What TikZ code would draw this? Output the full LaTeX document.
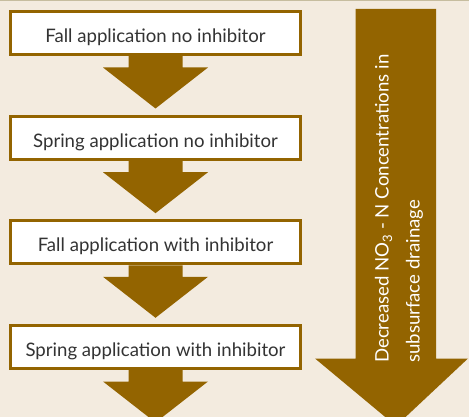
\documentclass[tikz,border=0pt]{standalone}
\usepackage{fontspec}
\setmainfont{Lato}
\usetikzlibrary{calc}

\definecolor{bgbeige}{HTML}{F3EBDF}
\definecolor{flowbrown}{HTML}{936400}
\definecolor{textgrey}{HTML}{333333}
\definecolor{topline}{HTML}{C6BD9F}

\tikzset{
  stepbox/.style={draw=flowbrown,line width=3pt,fill=white,minimum width=290pt,
    minimum height=43pt,inner sep=0pt,text height=25pt,text depth=6pt,
    text=textgrey,font=\fontsize{18.6}{22}\selectfont},
  blockarrow/.style={fill=flowbrown},
}

\begin{document}
\begin{tikzpicture}[x=1pt,y=-1pt]
\fill[bgbeige] (0,0) rectangle (469,417);
\useasboundingbox (0,0) rectangle (469,417);
\draw[topline,line width=1.5pt] (0,0.75)--(469,0.75);

% the four steps
\node[stepbox] (fallno) at (155.5,33) {Fall application no inhibitor};
\node[stepbox] (springno) at (155.5,137.7) {Spring application no inhibitor};
\node[stepbox] (fallwith) at (155.5,242.3) {Fall application with inhibitor};
\node[stepbox] (springwith) at (155.5,347) {Spring application with inhibitor};

% block arrows below each step
\foreach \step in {fallno,springno,fallwith,springwith}
  \fill[blockarrow] ([xshift=-27pt]\step.south) -- ++(0,11.5) -- ++(-25.5,0)
    -- ++(52.5,41) -- ++(52.5,-41) -- ++(-25.5,0) -- ++(0,-11.5) -- cycle;

% trend arrow on the right
\fill[blockarrow] (355.5,9) -- (436,9) -- (436,358.5) -- (468,358.5) -- (396,426)
  -- (315,358.5) -- (355.5,358.5) -- cycle;
\node[rotate=90,anchor=west,inner sep=0pt,align=left,text=white,
  font=\fontsize{18.6}{31}\selectfont] (trend) at (399,363)
  {Decreased NO\textsubscript{3} - N Concentrations in\\subsurface drainage};
\end{tikzpicture}
\end{document}
